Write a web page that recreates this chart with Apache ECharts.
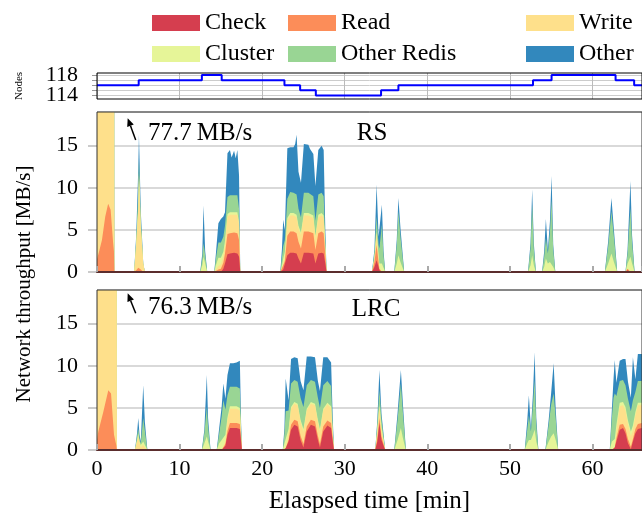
<!DOCTYPE html>
<html lang="en">
<head>
    <meta charset="UTF-8">
    <title>Network throughput RS vs LRC</title>
    <style>
        * {
            margin: 0;
            padding: 0;
            box-sizing: border-box;
        }

        .chart {
            width: 642px;
            height: 516px;
        }
    </style>
</head>
<body>
<div class="chart" id="chart"></div>

<script src="https://cdn.jsdelivr.net/npm/echarts@6.0.0/dist/echarts.min.js"></script>
<script>
    // node count over time (step line)
    const nodeTimes = [0, 5.05, 12.7, 15.1, 22.7, 24.6, 26.5, 34.4, 36.5, 52.8, 55.05, 62.8, 65.05, 66]
    const nodeCounts = [116, 117, 118, 117, 116, 115, 114, 115, 116, 117, 118, 117, 116, 116]

    // RS panel, one line per burst
    const rsTime = [
        0, 0.3, 0.6, 1.0, 1.35, 1.65, 1.95, 2.05, 2.1,
        4.5, 4.75, 5.0, 5.08, 5.3, 5.6, 5.8,
        12.5, 12.75, 12.9, 13.1, 13.35,
        14.2, 14.4, 14.7, 15.0, 15.3, 15.5, 15.8, 16.1, 16.3, 16.6, 16.8, 17.0, 17.2, 17.35,
        22.2, 22.4, 22.55, 22.75, 23.05, 23.4, 23.8, 24.0, 24.17, 24.4, 24.7, 25.05, 25.6, 25.8, 26.2, 26.45, 26.8, 27.2, 27.45, 27.65, 27.8,
        33.3, 33.6, 33.86, 34.1, 34.2, 34.5, 34.7, 34.9,
        36.0, 36.3, 36.5, 36.75, 37.2,
        52.2, 52.5, 52.7, 52.9, 53.15,
        53.9, 54.15, 54.36, 54.6, 54.85, 55.05, 55.25, 55.5,
        61.5, 61.9, 62.3, 62.6, 63.0,
        64.0, 64.25, 64.6, 64.8, 65.1, 66
    ]
    const rsCheck = [
        0, 0, 0, 0, 0, 0, 0, 0, 0,
        0, 0, 0, 0, 0, 0, 0,
        0, 0, 0, 0, 0,
        0, 0, 0, 0, 0.4, 1.0, 2.1, 2.2, 2.2, 2.3, 2.2, 2.2, 1.8, 0,
        0, 0, 0.3, 0.5, 2.0, 2.3, 2.3, 2.3, 2.2, 1.6, 1.0, 2.3, 2.3, 2.2, 2.2, 1.0, 2.2, 2.3, 2.2, 1.0, 0,
        0, 0.6, 1.4, 0.6, 0.2, 0, 0, 0,
        0, 0, 0, 0, 0,
        0, 0, 0, 0, 0,
        0, 0, 0, 0, 0, 0, 0, 0,
        0, 0, 0, 0, 0,
        0, 0.2, 0, 0, 0, 0
    ]
    const rsRead = [
        1.5, 2.6, 3.8, 6.6, 8.1, 7.4, 3.5, 2.5, 0,
        0, 0.2, 0.5, 0.5, 0.3, 0, 0,
        0, 0, 0, 0, 0,
        0, 0, 0.3, 0.4, 0.7, 1.2, 2.4, 2.4, 2.4, 2.4, 2.4, 2.4, 2.0, 0,
        0, 0, 0.5, 0.8, 2.3, 2.5, 2.5, 2.5, 2.4, 2.0, 1.8, 2.5, 2.5, 2.4, 2.4, 1.6, 2.4, 2.5, 2.4, 1.0, 0,
        0, 0.6, 1.8, 0.6, 0.2, 0, 0, 0,
        0, 0, 0, 0, 0,
        0, 0, 0, 0, 0,
        0, 0, 0, 0, 0, 0, 0, 0,
        0, 0, 0, 0, 0,
        0, 0.2, 0, 0, 0, 0
    ]
    const rsWrite = [
        70, 70, 70, 70, 70, 70, 70, 70, 0,
        0, 3, 7, 11, 5, 1, 0,
        0, 0, 0, 0, 0,
        0, 0, 0.4, 0.5, 0.7, 1.0, 2.1, 2.2, 2.2, 2.1, 2.2, 2.2, 1.8, 0,
        0, 0, 0, 0.5, 1.8, 1.9, 1.9, 1.9, 1.9, 1.6, 1.6, 1.9, 1.9, 1.9, 1.8, 1.4, 1.9, 1.9, 1.8, 0.8, 0,
        0, 0.4, 1.4, 0.4, 0, 0, 0, 0,
        0, 0, 0, 0, 0,
        0, 0, 0, 0, 0,
        0, 0, 0, 0, 0, 0, 0, 0,
        0, 0, 0, 0, 0,
        0, 0, 0, 0, 0, 0
    ]
    const rsCluster = [
        0, 0, 0, 0, 0, 0, 0, 0, 0,
        0, 0.2, 0.3, 0.3, 0.2, 0, 0,
        0, 0.8, 1.8, 1.0, 0,
        0, 0.8, 1.0, 0.8, 0.6, 0.5, 0.3, 0.3, 0.3, 0.3, 0.3, 0.3, 0.3, 0,
        0, 0.8, 0.8, 0.6, 0.3, 0.3, 0.3, 0.3, 0.3, 0.3, 0.3, 0.3, 0.3, 0.3, 0.3, 0.3, 0.3, 0.3, 0.3, 0.2, 0,
        0, 0.1, 0.2, 0.4, 0.6, 1.0, 0.5, 0,
        0, 1.0, 2.0, 1.2, 0,
        0, 0.8, 2.0, 0.8, 0,
        0, 0.6, 1.6, 1.0, 1.2, 1.4, 0.6, 0,
        0, 1.0, 2.2, 1.2, 0,
        0, 0.6, 1.8, 1.0, 0, 0
    ]
    const rsRedis = [
        0, 0, 0, 0, 0, 0, 0, 0, 0,
        0, 0.5, 1.5, 1.5, 0.8, 0, 0,
        0, 0.8, 1.6, 1.0, 0,
        0, 0.8, 1.8, 1.8, 1.8, 1.8, 2.0, 2.0, 1.9, 2.0, 1.9, 2.0, 1.6, 0,
        0, 1.0, 1.5, 1.4, 2.3, 2.5, 2.4, 2.4, 2.4, 2.0, 1.8, 2.4, 2.4, 2.4, 2.3, 1.8, 2.4, 2.4, 2.3, 0.8, 0,
        0, 0.6, 1.8, 1.2, 1.8, 4.6, 1.5, 0,
        0, 2.2, 5.2, 3.0, 0,
        0, 2.0, 6.0, 2.0, 0,
        0, 1.2, 2.4, 1.2, 3.5, 7.2, 2.0, 0,
        0, 2.0, 5.0, 3.0, 0,
        0, 1.2, 5.8, 2.5, 0, 0
    ]
    const rsOther = [
        0, 0, 0, 0, 0, 0, 0, 0, 0,
        0, 0.5, 3, 3, 1, 0, 0,
        0, 0.6, 4.5, 0.5, 0,
        0, 0.6, 2.3, 2.8, 2.4, 1.6, 5.2, 5.4, 4.6, 5.3, 4.5, 5.4, 4.0, 0,
        0, 1.0, 3.1, 1.2, 6.0, 5.3, 5.4, 5.8, 7.1, 4.4, 4.1, 5.8, 5.7, 5.4, 5.0, 4.1, 5.3, 5.6, 5.5, 1.2, 0,
        0, 0.4, 3.8, 1.0, 1.2, 2.4, 0.5, 0,
        0, 0.6, 1.6, 1.0, 0,
        0, 0.6, 1.8, 0.6, 0,
        0, 0.6, 2.3, 0.4, 1.3, 2.8, 0.6, 0,
        0, 0.6, 1.6, 0.8, 0,
        0, 0.4, 3.2, 0.8, 0, 0
    ]

    // LRC panel, one line per burst
    const lrcTime = [
        0, 0.16, 0.76, 1.37, 1.7, 2.06, 2.35, 2.4,
        4.6, 4.85, 5.0, 5.15, 5.3, 5.6, 5.8, 6.1,
        12.7, 13.0, 13.3, 13.45, 13.75,
        14.5, 14.8, 15.1, 15.3, 15.55, 15.8, 16.1, 16.5, 16.9, 17.3, 17.45, 17.55,
        22.5, 22.7, 22.85, 23.2, 23.5, 23.9, 24.3, 24.65, 25.0, 25.4, 25.9, 26.4, 26.75, 27.0, 27.4, 27.9, 28.35, 28.55, 28.7,
        33.7, 33.95, 34.2, 34.45, 34.9,
        36.0, 36.4, 36.8, 37.05, 37.4,
        51.8, 52.1, 52.3, 52.55, 52.8, 53.0, 53.2, 53.45,
        54.3, 54.7, 55.0, 55.3, 55.55, 55.85,
        62.1, 62.35, 62.55, 62.7, 62.9, 63.3, 63.7, 64.0, 64.3, 64.65, 64.9, 65.2, 65.5, 66
    ]
    const lrcCheck = [
        0, 0, 0, 0, 0, 0, 0, 0,
        0, 0, 0, 0, 0, 0, 0, 0,
        0, 0, 0, 0, 0,
        0, 0, 0, 0, 0.5, 1.8, 2.6, 2.6, 2.6, 2.5, 1.0, 0,
        0, 0, 0.2, 1.0, 2.4, 3.0, 2.8, 1.2, 0.3, 2.2, 3.0, 2.8, 1.2, 0.3, 2.2, 2.9, 2.6, 1.0, 0,
        0, 1.0, 3.2, 1.2, 0,
        0, 0, 0, 0, 0,
        0, 0, 0, 0, 0, 0, 0, 0,
        0, 0, 0, 0, 0, 0,
        0, 0, 0, 0.3, 1.0, 2.4, 2.6, 2.0, 0.8, 0.1, 1.0, 2.0, 2.5, 2.6
    ]
    const lrcRead = [
        1.2, 2.2, 4.5, 7.1, 6.7, 1.8, 0.5, 0,
        0, 0, 0, 0, 0, 0, 0, 0,
        0, 0, 0, 0, 0,
        0, 0, 0, 0, 0.2, 0.5, 0.6, 0.6, 0.6, 0.6, 0.3, 0,
        0, 0, 0, 0.2, 0.6, 0.6, 0.6, 0.5, 0.4, 0.6, 0.6, 0.6, 0.5, 0.4, 0.6, 0.6, 0.6, 0.3, 0,
        0, 0.4, 0.6, 0.4, 0,
        0, 0, 0, 0, 0,
        0, 0, 0, 0, 0, 0, 0, 0,
        0, 0, 0, 0, 0, 0,
        0, 0, 0, 0, 0.4, 0.6, 0.5, 0.5, 0.5, 0.3, 0.3, 0.5, 0.6, 0.6
    ]
    const lrcWrite = [
        70, 70, 70, 70, 70, 70, 70, 0,
        0, 1.0, 1.6, 0.8, 0.3, 0.6, 0.3, 0,
        0, 0, 0, 0, 0,
        0, 0, 0, 0, 0.3, 1.2, 1.7, 1.7, 1.7, 1.6, 0.5, 0,
        0, 0, 0, 0.8, 1.9, 1.9, 1.9, 1.6, 1.4, 1.9, 1.9, 1.9, 1.6, 1.4, 1.9, 1.9, 1.8, 0.6, 0,
        0, 0.8, 1.3, 0.8, 0,
        0, 0, 0, 0, 0,
        0, 0, 0, 0, 0, 0, 0, 0,
        0, 0, 0, 0, 0, 0,
        0, 0, 0, 0, 0.8, 2.2, 2.2, 2.2, 1.8, 1.2, 1.0, 1.6, 2.2, 2.1
    ]
    const lrcCluster = [
        0, 0, 0, 0, 0, 0, 0, 0,
        0, 0.2, 0.3, 0.2, 0.3, 0.4, 0.5, 0,
        0, 0.8, 1.6, 1.0, 0,
        0, 0.8, 1.2, 1.4, 0.8, 0.4, 0.3, 0.3, 0.3, 0.3, 0.2, 0,
        0, 0.8, 0.8, 0.5, 0.2, 0.2, 0.2, 0.3, 0.4, 0.2, 0.2, 0.2, 0.3, 0.4, 0.2, 0.2, 0.2, 0.2, 0,
        0, 0.2, 0.2, 0.3, 0,
        0, 1.2, 2.6, 1.4, 0,
        0, 0.8, 1.2, 1.2, 1.8, 2.4, 1.0, 0,
        0, 1.0, 1.6, 2.0, 1.2, 0,
        0, 1.0, 1.2, 1.0, 0.8, 0.4, 0.4, 0.4, 0.4, 0.6, 0.6, 0.4, 0.3, 0.3
    ]
    const lrcRedis = [
        0, 0, 0, 0, 0, 0, 0, 0,
        0, 0.4, 0.6, 0.4, 0.2, 2.8, 1.5, 0,
        0, 1.2, 3.5, 1.8, 0,
        0, 1.2, 2.8, 4.5, 3.0, 2.6, 2.3, 2.3, 2.3, 2.3, 0.6, 0,
        0, 1.2, 3.6, 2.2, 2.8, 2.6, 2.6, 2.6, 2.6, 2.8, 2.6, 2.6, 2.6, 2.5, 2.8, 2.6, 2.4, 0.8, 0,
        0, 0.8, 1.8, 1.0, 0,
        0, 2.4, 5.3, 3.0, 0,
        0, 1.6, 2.9, 1.0, 3.6, 5.9, 2.0, 0,
        0, 2.0, 3.8, 4.7, 2.6, 0,
        0, 2.8, 5.0, 5.4, 3.4, 2.6, 2.6, 2.6, 2.6, 2.4, 3.0, 2.4, 2.6, 2.6
    ]
    const lrcOther = [
        0, 0, 0, 0, 0, 0, 0, 0,
        0, 0.4, 1.3, 0.4, 0.2, 3.9, 1.0, 0,
        0, 0.4, 3.8, 1.0, 0,
        0, 0.6, 1.2, 2.0, 1.3, 2.4, 2.8, 2.8, 2.9, 3.3, 0.6, 0,
        0, 0.6, 3.9, 1.2, 2.9, 2.7, 2.8, 2.0, 2.0, 3.4, 2.8, 2.9, 2.0, 2.0, 3.3, 2.8, 2.8, 0.8, 0,
        0, 0.4, 2.4, 0.6, 0,
        0, 0.8, 1.6, 1.0, 0,
        0, 1.0, 2.4, 0.3, 1.4, 3.3, 0.8, 0,
        0, 0.6, 1.4, 3.6, 1.0, 0,
        0, 1.0, 2.2, 4.0, 1.6, 2.4, 2.5, 3.1, 2.0, 1.6, 5.1, 1.5, 3.2, 3.2
    ]

    const layerNames = ['Check', 'Read', 'Write', 'Cluster', 'Other Redis', 'Other']
    const layerColors = ['#d53e4f', '#fc8d59', '#fee08b', '#e6f598', '#99d594', '#3288bd']

    const serif = 'Liberation Serif'

    // both axes are value axes, so the stack is summed here:
    // each layer's area runs from 0 up to its running total, and the
    // highest total is painted first so lower layers cover it
    function panelSeries(time, layers, axisIndex) {
        let running = time.map(() => 0)
        const tops = layers.map((vals) => {
            running = running.map((s, i) => s + vals[i])
            return running
        })
        return tops.map((top, k) => ({
            name: layerNames[k],
            type: 'line',
            xAxisIndex: axisIndex,
            yAxisIndex: axisIndex,
            data: time.map((t, i) => [t, top[i]]),
            symbol: 'none',
            lineStyle: { width: 0 },
            itemStyle: { color: layerColors[k] },
            areaStyle: { color: layerColors[k], opacity: 1 },
            z: 2
        })).reverse()
    }

    // little arrow pointing up-left to the off-scale write peak
    function arrow(x1, y1, x2, y2) {
        const dx = x2 - x1, dy = y2 - y1
        const len = Math.sqrt(dx * dx + dy * dy)
        const ux = dx / len, uy = dy / len
        const bx = x2 - ux * 8, by = y2 - uy * 8
        const nx = -uy * 3.5, ny = ux * 3.5
        return [
            { type: 'line', shape: { x1: x1, y1: y1, x2: bx, y2: by }, style: { stroke: '#000', lineWidth: 1.5 }, z: 20 },
            { type: 'polygon', shape: { points: [[x2, y2], [bx + nx, by + ny], [bx - nx, by - ny]] }, style: { fill: '#000' }, z: 20 }
        ]
    }

    function legendItem(name, left, top) {
        return {
            left: left,
            top: top,
            padding: 0,
            itemWidth: 48,
            itemHeight: 16,
            icon: 'rect',
            selectedMode: false,
            itemStyle: { borderWidth: 0 },
            textStyle: { fontFamily: serif, fontSize: 24, color: '#000' },
            data: [name]
        }
    }

    const mainX = (show) => ({
        type: 'value',
        min: 0,
        max: 66,
        interval: 10,
        z: 11,
        axisLine: { show: true, lineStyle: { color: '#5b2d2d', width: 2 } },
        axisTick: { show: true, inside: true, length: 6, lineStyle: { color: '#aaa', width: 2 } },
        axisLabel: { show: show, showMaxLabel: false, fontFamily: serif, fontSize: 22, color: '#000', margin: 8 },
        splitLine: { show: false }
    })

    const mainY = {
        type: 'value',
        min: 0,
        max: 19,
        interval: 5,
        axisLine: { show: false },
        axisTick: { show: true, length: 9, lineStyle: { color: '#bbb', width: 1.5 } },
        axisLabel: { showMaxLabel: false, fontFamily: serif, fontSize: 22, color: '#000', margin: 19 },
        splitLine: { show: true, lineStyle: { color: '#ccc', width: 1.5 } }
    }

    // node axis: labels only at 114 and 118, one per axis so neither gets dropped
    const nodeY = (labelValue, extra) => Object.assign({
        gridIndex: 0,
        type: 'value',
        position: 'left',
        min: 113.3,
        max: 118.4,
        axisLine: { show: false },
        axisTick: { show: false },
        axisLabel: { customValues: [labelValue], fontFamily: serif, fontSize: 22, color: '#000', margin: 19 },
        splitLine: { show: false }
    }, extra)

    const chartEle = document.querySelector('.chart')
    const myChart = echarts.init(chartEle)

    const option = {
        animation: false,
        backgroundColor: '#fff',
        legend: [
            legendItem('Check', 152, 11),
            legendItem('Read', 288, 11),
            legendItem('Write', 526, 11),
            legendItem('Cluster', 152, 42),
            legendItem('Other Redis', 288, 42),
            legendItem('Other', 526, 42)
        ],
        grid: [
            { left: 97, top: 73, width: 547, height: 26, show: true, borderColor: '#000', borderWidth: 1, z: 10 },
            { left: 97, top: 112, width: 547, height: 160, show: true, borderColor: '#333', borderWidth: 1, z: 10 },
            { left: 97, top: 290, width: 547, height: 160, show: true, borderColor: '#333', borderWidth: 1, z: 10 }
        ],
        xAxis: [
            {
                gridIndex: 0,
                type: 'value',
                min: 0,
                max: 66,
                interval: 10,
                axisLine: { show: false },
                axisTick: { show: false },
                axisLabel: { show: false },
                splitLine: { show: true, lineStyle: { color: '#bbb' } }
            },
            Object.assign({ gridIndex: 1 }, mainX(false)),
            Object.assign({
                gridIndex: 2,
                name: 'Elaspsed time [min]',
                nameLocation: 'middle',
                nameGap: 39,
                nameTextStyle: { fontFamily: serif, fontSize: 25, color: '#000' }
            }, mainX(true))
        ],
        yAxis: [
            nodeY(114, {
                name: 'Nodes',
                nameLocation: 'middle',
                nameGap: 72,
                nameRotate: 90,
                nameTextStyle: { fontFamily: serif, fontSize: 11, color: '#000' },
                axisTick: { show: true, length: 5, customValues: [114, 115, 116, 117, 118], lineStyle: { color: '#999' } },
                splitLine: { show: true, lineStyle: { color: '#ccc' } }
            }),
            Object.assign({ gridIndex: 1 }, mainY),
            Object.assign({ gridIndex: 2 }, mainY),
            nodeY(118, {})
        ],
        graphic: [
            {
                type: 'text', x: 24, y: 284, rotation: Math.PI / 2,
                style: { text: 'Network throughput [MB/s]', font: '21px "Liberation Serif"', fill: '#000', align: 'center', verticalAlign: 'middle' }
            },
            {
                type: 'text', x: 372, y: 133, z: 20,
                style: { text: 'RS', font: '25px "Liberation Serif"', fill: '#000', align: 'center', verticalAlign: 'middle' }
            },
            {
                type: 'text', x: 376, y: 309, z: 20,
                style: { text: 'LRC', font: '25px "Liberation Serif"', fill: '#000', align: 'center', verticalAlign: 'middle' }
            },
            {
                type: 'text', x: 148, y: 133, z: 20,
                style: { text: '77.7\u2009MB/s', font: '25px "Liberation Serif"', fill: '#000', align: 'left', verticalAlign: 'middle' }
            },
            {
                type: 'text', x: 148, y: 307, z: 20,
                style: { text: '76.3\u2009MB/s', font: '25px "Liberation Serif"', fill: '#000', align: 'left', verticalAlign: 'middle' }
            }
        ].concat(arrow(135.7, 140, 127.7, 118.3), arrow(135.7, 313.3, 127.7, 293.3)),
        series: [
            {
                name: 'Nodes',
                type: 'line',
                xAxisIndex: 0,
                yAxisIndex: 0,
                step: 'end',
                symbol: 'none',
                data: nodeTimes.map((t, i) => [t, nodeCounts[i]]),
                lineStyle: { color: '#0000ff', width: 2 },
                z: 3
            }
        ]
            .concat(panelSeries(rsTime, [rsCheck, rsRead, rsWrite, rsCluster, rsRedis, rsOther], 1))
            .concat(panelSeries(lrcTime, [lrcCheck, lrcRead, lrcWrite, lrcCluster, lrcRedis, lrcOther], 2))
    }

    myChart.setOption(option)
</script>
</body>
</html>
